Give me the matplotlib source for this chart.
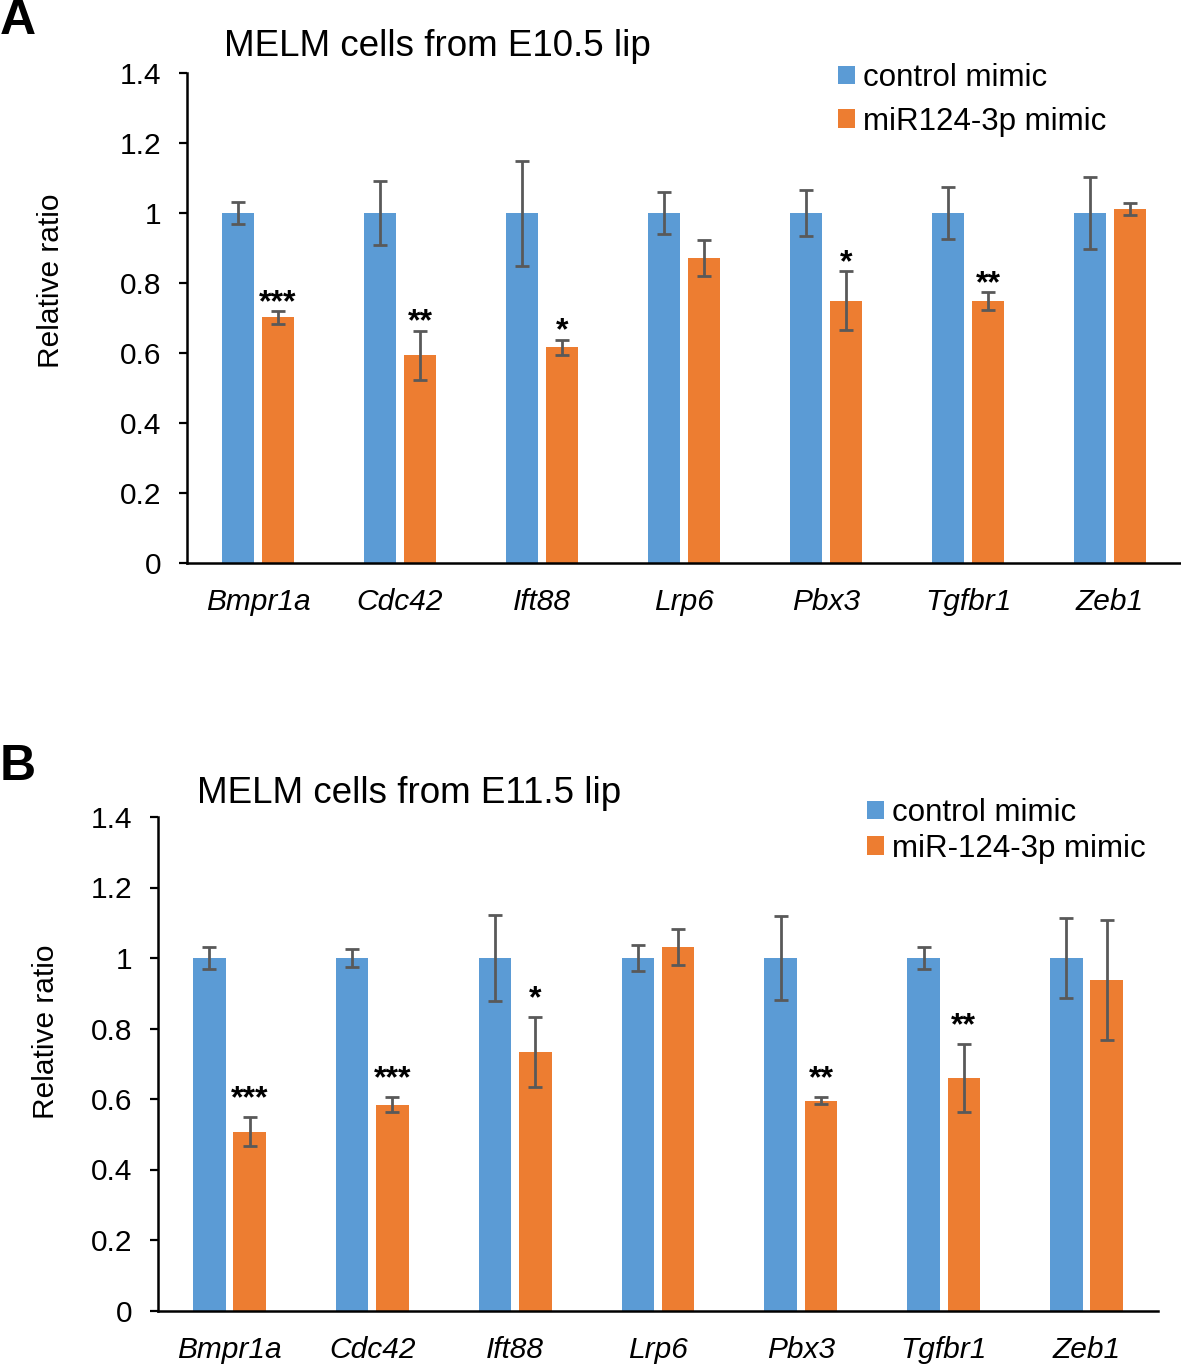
import matplotlib
matplotlib.use("Agg")
import matplotlib.pyplot as plt
import numpy as np

plt.rcParams['font.family'] = ['Liberation Sans', 'DejaVu Sans']

genes = ["Bmpr1a", "Cdc42", "Ift88", "Lrp6", "Pbx3", "Tgfbr1", "Zeb1"]

# Panel A: MELM cells from E10.5 lip
a_control = [1.0, 1.0, 1.0, 1.0, 1.0, 1.0, 1.0]
a_control_err = [0.032, 0.092, 0.150, 0.059, 0.067, 0.075, 0.102]
a_mimic = [0.702, 0.594, 0.616, 0.871, 0.750, 0.749, 1.012]
a_mimic_err = [0.018, 0.070, 0.022, 0.051, 0.083, 0.025, 0.018]
a_stars = ["***", "**", "*", "", "*", "**", ""]

# Panel B: MELM cells from E11.5 lip
b_control = [1.0, 1.0, 1.0, 1.0, 1.0, 1.0, 1.0]
b_control_err = [0.032, 0.026, 0.121, 0.036, 0.118, 0.030, 0.113]
b_mimic = [0.507, 0.584, 0.734, 1.031, 0.595, 0.659, 0.937]
b_mimic_err = [0.041, 0.021, 0.099, 0.052, 0.010, 0.096, 0.170]
b_stars = ["***", "***", "*", "", "**", "**", ""]

yticks = [0, 0.2, 0.4, 0.6, 0.8, 1.0, 1.2, 1.4]
ytick_labels = ["0", "0.2", "0.4", "0.6", "0.8", "1", "1.2", "1.4"]

BLUE = "#5B9BD5"
ORANGE = "#ED7D31"
ERR = "#595959"

W, H = 1181, 1365
fig = plt.figure(figsize=(W / 100, H / 100), dpi=100)


def px_axes(left, top, right, bottom):
    return fig.add_axes([left / W, 1 - bottom / H, (right - left) / W, (bottom - top) / H])


def panel(ax, ctrl, ctrl_err, mim, mim_err, stars, star_off, legend_labels, legend_anchor, lspace):
    x = np.arange(len(genes))
    off = 0.141
    bw = 0.228
    ekw = dict(ecolor=ERR, elinewidth=2.0, capsize=5, capthick=2.0)
    ax.bar(x - off, ctrl, bw, color=BLUE, label=legend_labels[0], zorder=2)
    ax.bar(x + off, mim, bw, color=ORANGE, label=legend_labels[1], zorder=2)
    ax.errorbar(x - off, ctrl, yerr=ctrl_err, fmt='none', zorder=3, **ekw)
    ax.errorbar(x + off, mim, yerr=mim_err, fmt='none', zorder=3, **ekw)
    for xi, v, e, s in zip(x, mim, mim_err, stars):
        if s:
            ax.annotate(s, xy=(xi + off, v + e), xytext=(0, star_off), textcoords='offset points',
                        ha='center', va='baseline', fontsize=23, fontweight='bold')
    ax.set_xlim(-0.5, len(genes) - 0.5)
    ax.set_ylim(0, 1.4)
    ax.set_yticks(yticks)
    ax.set_yticklabels(ytick_labels)
    ax.set_xticks(x)
    ax.set_xticklabels(genes, fontstyle='italic')
    ax.tick_params(axis='x', length=0, pad=18, labelsize=21.5)
    ax.tick_params(axis='y', length=5.5, width=1.6, pad=13, labelsize=21.5, direction='out')
    for sp in ['top', 'right']:
        ax.spines[sp].set_visible(False)
    for sp in ['left', 'bottom']:
        ax.spines[sp].set_linewidth(1.8)
        ax.spines[sp].set_color('black')
    ax.legend(loc='upper left', bbox_to_anchor=legend_anchor, bbox_transform=fig.transFigure,
              frameon=False, fontsize=22.5, handlelength=0.55, handleheight=0.55,
              handletextpad=0.25, labelspacing=lspace, borderpad=0, borderaxespad=0)
    return ax


axA = px_axes(187, 73, 1181, 563)
panel(axA, a_control, a_control_err, a_mimic, a_mimic_err, a_stars, 0,
      ["control mimic", "miR124-3p mimic"], (838 / W, 1 - 63 / H), 0.44)
fig.text(224 / W, 1 - 47 / H, "MELM cells from E10.5 lip", fontsize=26.5, va='center', ha='left')
fig.text(51 / W, 1 - 281 / H, "Relative ratio", fontsize=21.5, rotation=90, va='center', ha='center')
fig.text(0 / W, 1 - 21 / H, "A", fontsize=36, fontweight='bold', va='center', ha='left')

axB = px_axes(158, 817, 1158, 1310.5)
panel(axB, b_control, b_control_err, b_mimic, b_mimic_err, b_stars, 7,
      ["control mimic", "miR-124-3p mimic"], (867 / W, 1 - 798 / H), 0.18)
fig.text(197 / W, 1 - 793 / H, "MELM cells from E11.5 lip", fontsize=26.5, va='center', ha='left')
fig.text(46 / W, 1 - 1032 / H, "Relative ratio", fontsize=21.5, rotation=90, va='center', ha='center')
fig.text(0 / W, 1 - 767 / H, "B", fontsize=36, fontweight='bold', va='center', ha='left')

fig.savefig("out.png", dpi=100)
